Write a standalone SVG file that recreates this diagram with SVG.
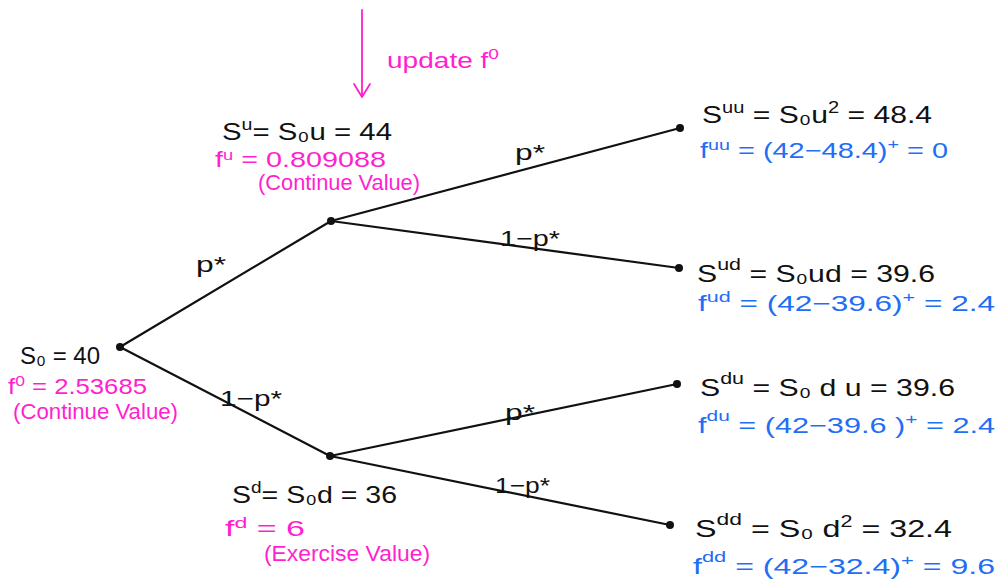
<svg xmlns="http://www.w3.org/2000/svg" width="998" height="581" viewBox="0 0 998 581">
<defs>
<style>
text{font-family:"Liberation Sans",Arial,sans-serif}
.k{font-size:24px;fill:#111}
.m{font-size:22px;fill:#ff1fcf}
.b{font-size:22px;fill:#1f6ef5}
.l{font-size:22px;fill:#111}
.e{stroke:#111;stroke-width:2.2;fill:none;stroke-linecap:round}
.p{stroke:#ff1fcf;stroke-width:1.8;fill:none;stroke-linecap:round;stroke-linejoin:round}
.dot{fill:#111}
</style>
</defs>
<rect width="998" height="581" fill="#fff"/>

<g id="connectors">
<line class="e" x1="120" y1="347" x2="331" y2="221"/>
<line class="e" x1="120" y1="347" x2="330" y2="456"/>
<line class="e" x1="331" y1="221" x2="680" y2="128"/>
<line class="e" x1="331" y1="221" x2="679" y2="268"/>
<line class="e" x1="330" y1="456" x2="677" y2="384"/>
<line class="e" x1="330" y1="456" x2="670" y2="525"/>
<text class="l" x="196" y="272" textLength="30" lengthAdjust="spacingAndGlyphs">p*</text>
<text class="l" x="220" y="406" textLength="62" lengthAdjust="spacingAndGlyphs">1−p*</text>
<text class="l" x="515" y="160" textLength="30" lengthAdjust="spacingAndGlyphs">p*</text>
<text class="l" x="500" y="246" textLength="60" lengthAdjust="spacingAndGlyphs">1−p*</text>
<text class="l" x="505" y="420" textLength="30" lengthAdjust="spacingAndGlyphs">p*</text>
<text class="l" x="495" y="493" textLength="55" lengthAdjust="spacingAndGlyphs">1−p*</text>
</g>

<g id="update-arrow">
<line class="p" x1="362" y1="10" x2="362" y2="96"/>
<path class="p" d="M354,84 L362,97 L370,84"/>
<text class="m" x="387" y="68" textLength="112" lengthAdjust="spacingAndGlyphs">update f<tspan dy="-9" font-size="15">0</tspan></text>
</g>

<g id="node-s0">
<circle class="dot" cx="120" cy="347" r="4"/>
<text class="k" x="20" y="364" textLength="80" lengthAdjust="spacingAndGlyphs">S₀ = 40</text>
<text class="m" x="8" y="394" textLength="139" lengthAdjust="spacingAndGlyphs">f<tspan dy="-8" font-size="15">0</tspan><tspan dy="8"> = 2.53685</tspan></text>
<text class="m" x="13" y="419" textLength="165" lengthAdjust="spacingAndGlyphs">(Continue Value)</text>
</g>

<g id="node-su">
<circle class="dot" cx="331" cy="221" r="4"/>
<text class="k" x="222" y="140" textLength="170" lengthAdjust="spacingAndGlyphs">S<tspan dy="-10" font-size="16">u</tspan><tspan dy="10">= S₀u = 44</tspan></text>
<text class="m" x="215" y="167" textLength="171" lengthAdjust="spacingAndGlyphs">f<tspan dy="-7" font-size="14">u</tspan><tspan dy="7"> = 0.809088</tspan></text>
<text class="m" x="258" y="190" textLength="162" lengthAdjust="spacingAndGlyphs">(Continue Value)</text>
</g>

<g id="node-sd">
<circle class="dot" cx="330" cy="456" r="4"/>
<text class="k" x="232" y="503" textLength="165" lengthAdjust="spacingAndGlyphs">S<tspan dy="-10" font-size="16">d</tspan><tspan dy="10">= S₀d = 36</tspan></text>
<text class="m" x="225" y="536" textLength="80" lengthAdjust="spacingAndGlyphs">f<tspan dy="-8" font-size="15">d</tspan><tspan dy="8"> = 6</tspan></text>
<text class="m" x="264" y="561" textLength="166" lengthAdjust="spacingAndGlyphs">(Exercise Value)</text>
</g>

<g id="node-suu">
<circle class="dot" cx="680" cy="128" r="4"/>
<text class="k" x="702" y="123" textLength="230" lengthAdjust="spacingAndGlyphs">S<tspan dy="-10" font-size="16">uu</tspan><tspan dy="10"> = S₀u</tspan><tspan dy="-10" font-size="16">2</tspan><tspan dy="10"> = 48.4</tspan></text>
<text class="b" x="700" y="158" textLength="248" lengthAdjust="spacingAndGlyphs">f<tspan dy="-8" font-size="15">uu</tspan><tspan dy="8"> = (42−48.4)</tspan><tspan dy="-9" font-size="15">+</tspan><tspan dy="9"> = 0</tspan></text>
</g>

<g id="node-sud">
<circle class="dot" cx="679" cy="268" r="4"/>
<text class="k" x="697" y="282" textLength="238" lengthAdjust="spacingAndGlyphs">S<tspan dy="-12" font-size="17">ud</tspan><tspan dy="12"> = S₀ud = 39.6</tspan></text>
<text class="b" x="698" y="311" textLength="297" lengthAdjust="spacingAndGlyphs">f<tspan dy="-9" font-size="15">ud</tspan><tspan dy="9">  = (42−39.6)</tspan><tspan dy="-9" font-size="15">+</tspan><tspan dy="9"> = 2.4</tspan></text>
</g>

<g id="node-sdu">
<circle class="dot" cx="677" cy="384" r="4"/>
<text class="k" x="700" y="396" textLength="255" lengthAdjust="spacingAndGlyphs">S<tspan dy="-12" font-size="17">du</tspan><tspan dy="12"> = S₀ d u = 39.6</tspan></text>
<text class="b" x="698" y="433" textLength="297" lengthAdjust="spacingAndGlyphs">f<tspan dy="-12" font-size="15">du</tspan><tspan dy="12">   = (42−39.6 )</tspan><tspan dy="-9" font-size="15">+</tspan><tspan dy="9"> = 2.4</tspan></text>
</g>

<g id="node-sdd">
<circle class="dot" cx="670" cy="525" r="4"/>
<text class="k" x="695" y="537" textLength="257" lengthAdjust="spacingAndGlyphs">S<tspan dy="-12" font-size="17">dd</tspan><tspan dy="12"> = S₀ d</tspan><tspan dy="-10" font-size="16">2</tspan><tspan dy="10"> = 32.4</tspan></text>
<text class="b" x="693" y="574" textLength="302" lengthAdjust="spacingAndGlyphs">f<tspan dy="-12" font-size="15">dd</tspan><tspan dy="12"> = (42−32.4)</tspan><tspan dy="-9" font-size="15">+</tspan><tspan dy="9"> = 9.6</tspan></text>
</g>
</svg>
